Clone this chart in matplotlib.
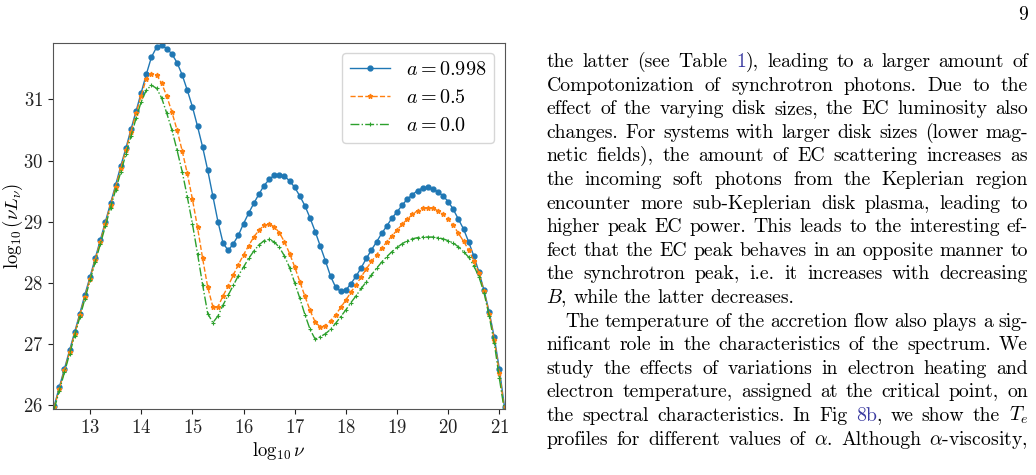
import re
import numpy as np
import matplotlib
matplotlib.use("Agg")
import matplotlib.pyplot as plt

plt.rcParams['font.family'] = 'serif'
plt.rcParams['font.serif'] = ['cmr10']
plt.rcParams['mathtext.fontset'] = 'cm'
plt.rcParams['axes.unicode_minus'] = False
plt.rcParams['axes.formatter.use_mathtext'] = True

# log10 nu grid, 0.1 dex steps from 12.3 to 21.1
log_nu = np.arange(123, 212) / 10.0

# log10(nu L_nu)
spin_0998 = [25.99, 26.30, 26.60, 26.90, 27.20, 27.50, 27.81, 28.10, 28.40, 28.70,
             29.00, 29.30, 29.60, 29.91, 30.20, 30.51, 30.81, 31.11, 31.41, 31.69,
             31.85, 31.88, 31.83, 31.74, 31.60, 31.40, 31.15, 30.88, 30.56, 30.22,
             29.84, 29.42, 29.00, 28.65, 28.53, 28.64, 28.78, 28.97, 29.14, 29.30,
             29.45, 29.59, 29.69, 29.76, 29.77, 29.74, 29.67, 29.56, 29.42, 29.26,
             29.06, 28.84, 28.60, 28.36, 28.11, 27.93, 27.86, 27.88, 27.99, 28.11,
             28.25, 28.40, 28.54, 28.67, 28.81, 28.93, 29.06, 29.16, 29.27, 29.37,
             29.44, 29.51, 29.55, 29.56, 29.53, 29.49, 29.42, 29.33, 29.20, 29.04,
             28.88, 28.67, 28.44, 28.18, 27.88, 27.53, 27.11, 26.59, 25.97]

spin_05 = [25.97, 26.27, 26.57, 26.87, 27.17, 27.47, 27.77, 28.07, 28.37, 28.67,
           28.97, 29.27, 29.57, 29.87, 30.17, 30.47, 30.77, 31.06, 31.34, 31.42,
           31.40, 31.26, 31.05, 30.79, 30.50, 30.16, 29.79, 29.37, 28.91, 28.40,
           27.93, 27.61, 27.61, 27.79, 27.95, 28.13, 28.30, 28.46, 28.61, 28.75,
           28.86, 28.94, 28.96, 28.92, 28.82, 28.67, 28.48, 28.26, 28.02, 27.78,
           27.55, 27.36, 27.28, 27.30, 27.38, 27.48, 27.60, 27.72, 27.85, 27.97,
           28.10, 28.23, 28.35, 28.46, 28.57, 28.67, 28.77, 28.86, 28.96, 29.04,
           29.12, 29.18, 29.22, 29.23, 29.22, 29.18, 29.12, 29.04, 28.94, 28.81,
           28.68, 28.54, 28.36, 28.16, 27.86, 27.50, 27.07, 26.52, 25.93]

spin_00 = [25.94, 26.24, 26.54, 26.84, 27.14, 27.44, 27.74, 28.04, 28.34, 28.63,
           28.93, 29.23, 29.52, 29.81, 30.10, 30.40, 30.69, 30.96, 31.15, 31.23,
           31.18, 31.02, 30.77, 30.50, 30.17, 29.82, 29.41, 28.97, 28.48, 27.97,
           27.50, 27.35, 27.46, 27.64, 27.80, 27.96, 28.12, 28.26, 28.40, 28.52,
           28.62, 28.69, 28.71, 28.67, 28.58, 28.44, 28.25, 28.00, 27.75, 27.48,
           27.24, 27.08, 27.12, 27.17, 27.24, 27.34, 27.45, 27.56, 27.68, 27.79,
           27.91, 28.02, 28.13, 28.24, 28.34, 28.43, 28.51, 28.58, 28.64, 28.69,
           28.72, 28.74, 28.75, 28.75, 28.75, 28.74, 28.72, 28.69, 28.65, 28.59,
           28.51, 28.42, 28.28, 28.10, 27.84, 27.46, 27.02, 26.44, 25.90]

labels = [r'$a = 0.998$', r'$a = 0.5$', r'$a = 0.0$']

# page text next to the figure ([..] = link colour)
text_lines = [
    "the latter (see Table [1]), leading to a larger amount of",
    "Compotonization of synchrotron photons.  Due to the",
    "effect of the varying disk sizes, the EC luminosity also",
    "changes. For systems with larger disk sizes (lower mag-",
    "netic fields), the amount of EC scattering increases as",
    "the incoming soft photons from the Keplerian region",
    "encounter more sub-Keplerian disk plasma, leading to",
    "higher peak EC power. This leads to the interesting ef-",
    "fect that the EC peak behaves in an opposite manner to",
    "the synchrotron peak, i.e.  it increases with decreasing",
    "$B$, while the latter decreases.",
    "The temperature of the accretion flow also plays a sig-",
    "nificant role in the characteristics of the spectrum. We",
    "study the effects of variations in electron heating and",
    "electron temperature, assigned at the critical point, on",
    "the spectral characteristics. In Fig [8b], we show the $T_e$",
    r"profiles for different values of $\alpha$. Although $\alpha$-viscosity,",
]

W, H = 1036, 475
fig = plt.figure(figsize=(W / 100, H / 100), dpi=100)
ax = fig.add_axes([52.7 / W, 1 - 409.3 / H, (504.5 - 52.7) / W, (409.3 - 42.7) / H])

ax.plot(log_nu, spin_0998, color='C0', marker='o', ms=3.5, lw=1.0, label=labels[0])
ax.plot(log_nu, spin_05, color='C1', ls='--', marker='*', ms=3.5, lw=1.0, label=labels[1])
ax.plot(log_nu, spin_00, color='C2', ls='-.', marker='+', ms=3.5, mew=0.8, lw=1.0, label=labels[2])

ax.set_xlim(12.27, 21.1)
ax.set_ylim(25.935, 31.925)
ax.set_xticks(range(13, 22))
ax.set_yticks(range(26, 32))
ax.tick_params(labelsize=13.5, colors='#222222')
for s in ax.spines.values():
    s.set_color('#555555')
ax.set_xlabel(r'$\log_{10}\nu$', fontsize=13.5, labelpad=2)
ax.set_ylabel(r'$\log_{10}(\nu L_\nu)$', fontsize=13.5)
ax.yaxis.set_label_coords(-0.062, 0.5)
ax.legend(loc='upper right', fontsize=14.5)

# text column, justified word by word
r = fig.canvas.get_renderer()
fs = 14.2
link = '#3a3aa0'
col_left, col_right = 546.5, 1028
base0, step = 67, 23.6
space = fs * 100 / 72 * 0.3
for i, line in enumerate(text_lines):
    y = base0 + step * i
    x0 = col_left + (19 if i == 11 else 0)
    words = []
    for w in line.split():
        objs, widths = [], []
        for part in re.split(r'(\[[^\]]*\])', w):
            if not part:
                continue
            c = 'black'
            if part.startswith('['):
                part, c = part[1:-1], link
            t = fig.text(0, 0, part, fontsize=fs, color=c, va='baseline', ha='left')
            objs.append(t)
            widths.append(t.get_window_extent(r).width)
        words.append((objs, widths))
    total = sum(sum(wd) for _, wd in words)
    gap = space if i == 10 else (col_right - x0 - total) / (len(words) - 1)
    x = x0
    for objs, widths in words:
        for t, wd in zip(objs, widths):
            t.set_position((x / W, 1 - y / H))
            x += wd
        x += gap

fig.text(1028 / W, 1 - 20 / H, "9", fontsize=fs, ha='right', va='baseline')

fig.savefig('out.png', dpi=100)
